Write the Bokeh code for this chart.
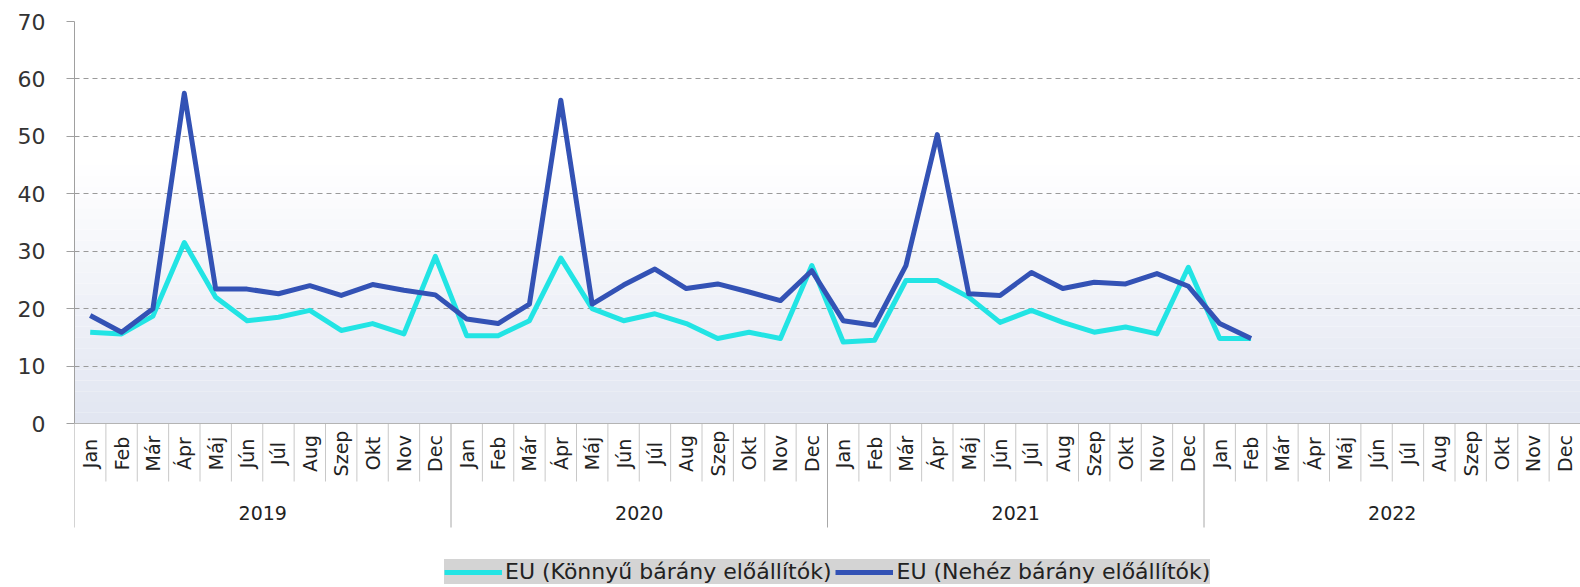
import math
from bokeh.plotting import figure
from bokeh.models import (Range1d, FixedTicker, Legend, LegendItem, BoxAnnotation, Span)
from bokeh.core.properties import value
from bokeh.embed import file_html
from bokeh.resources import INLINE

FONT = "DejaVu Sans"

years = ["2019", "2020", "2021", "2022"]
months = ["Jan", "Feb", "Már", "Ápr", "Máj", "Jún", "Júl", "Aug", "Szep", "Okt", "Nov", "Dec"]

light_name = "EU (Könnyű bárány előállítók)"
heavy_name = "EU (Nehéz bárány előállítók)"

light = [15.9, 15.6, 18.7, 31.5, 22.0, 17.9, 18.5, 19.7, 16.2, 17.4, 15.6, 29.1,
         15.3, 15.3, 17.9, 28.8, 20.0, 17.9, 19.1, 17.4, 14.8, 15.9, 14.8, 27.5,
         14.2, 14.5, 24.9, 24.9, 22.0, 17.6, 19.7, 17.6, 15.9, 16.8, 15.6, 27.2,
         14.8, 14.8]
heavy = [18.8, 15.9, 20.0, 57.5, 23.4, 23.4, 22.6, 24.0, 22.3, 24.2, 23.2, 22.4,
         18.2, 17.4, 20.8, 56.3, 20.8, 24.1, 26.9, 23.5, 24.3, 22.9, 21.4, 26.6,
         17.9, 17.1, 27.5, 50.3, 22.6, 22.3, 26.3, 23.5, 24.6, 24.3, 26.1, 23.9,
         17.4, 14.8]

n_cat = len(years) * len(months)
xs_light = [i + 0.5 for i in range(len(light))]
xs_heavy = [i + 0.5 for i in range(len(heavy))]

# layout (pixels)
W, H = 1580, 587
TOP, LEFT = 21, 74
DATA_PX = 402            # pixel height of 0..70
YMAX = 70
frame_px = H - TOP
px = YMAX / DATA_PX      # data units per pixel
y_lo = -(frame_px - DATA_PX) * px

p = figure(width=W, height=H, x_range=Range1d(0, n_cat), y_range=Range1d(y_lo, YMAX),
           output_backend="svg", toolbar_location=None, x_axis_type=None,
           min_border_left=LEFT, min_border_right=0, min_border_top=TOP, min_border_bottom=0)
p.outline_line_color = None
p.background_fill_color = "white"
p.border_fill_color = "white"

# background gradient bands (style)
top_c = (255, 255, 255)
bot_c = (0xE1, 0xE5, 0xF1)
nb = 24
span = 45.0
for k in range(nb):
    y0 = span * k / nb
    y1 = span * (k + 1) / nb
    t = (k + 0.5) / nb
    c = tuple(int(round(bot_c[j] + (top_c[j] - bot_c[j]) * t)) for j in range(3))
    p.add_layout(BoxAnnotation(bottom=y0, top=y1, fill_color="#%02x%02x%02x" % c, fill_alpha=1,
                               line_color=None, level="image"))

# y axis
yticks = list(range(0, 71, 10))
yax = p.yaxis[0]
yax.ticker = FixedTicker(ticks=yticks)
yax.bounds = (0, YMAX)
yax.major_tick_out = 8
yax.major_tick_in = 0
yax.minor_tick_out = 0
yax.minor_tick_in = 0
yax.axis_line_color = "#a0a0a0"
yax.major_tick_line_color = "#a0a0a0"
yax.major_label_standoff = 21
yax.major_label_text_font = FONT
yax.major_label_text_font_size = "22px"
yax.major_label_text_color = "#333333"

p.ygrid.ticker = FixedTicker(ticks=yticks[1:])
p.ygrid.grid_line_color = "#9a9a9a"
p.ygrid.grid_line_dash = "5 4"
p.ygrid.grid_line_width = 1

p.add_layout(Span(location=0, dimension="width", line_color="#b4b4b4", line_width=1))

# category axis drawn below the zero line
bounds = list(range(0, n_cat + 1))
year_bounds = [b for b in bounds if b % 12 == 0]
month_bounds = [b for b in bounds if b % 12 != 0]
centers = [i + 0.5 for i in range(n_cat)]
month_sep_y = -58 * px
year_sep_y = -104 * px
month_lab_y = -30 * px
year_lab_y = -89 * px

p.segment(x0=month_bounds, y0=[0] * len(month_bounds), x1=month_bounds,
          y1=[month_sep_y] * len(month_bounds), line_color="#c8c8c8", line_width=1)
p.segment(x0=year_bounds, y0=[0] * len(year_bounds), x1=year_bounds,
          y1=[year_sep_y] * len(year_bounds), line_color="#a8a8a8", line_width=1)

p.text(x=centers, y=[month_lab_y] * n_cat, text=months * len(years), angle=math.pi / 2,
       text_align="center", text_baseline="middle", text_font=value(FONT),
       text_font_size="19px", text_color="#222222")

year_centers = [12 * k + 6 for k in range(len(years))]
p.text(x=year_centers, y=[year_lab_y] * len(years), text=years, text_align="center",
       text_baseline="middle", text_font=value(FONT), text_font_size="19px",
       text_color="#222222")

r1 = p.line(xs_light, light, line_color="#22e4e4", line_width=5, line_join="round")
r2 = p.line(xs_heavy, heavy, line_color="#3352b5", line_width=5, line_join="round")

legend = Legend(items=[LegendItem(label=light_name, renderers=[r1]),
                       LegendItem(label=heavy_name, renderers=[r2])],
                orientation="horizontal", location=(370, 3))
legend.background_fill_color = "#d4d4d4"
legend.background_fill_alpha = 1
legend.border_line_color = None
legend.padding = 6
legend.margin = 0
legend.spacing = 4
legend.label_standoff = 3
legend.glyph_width = 58
legend.glyph_height = 20
legend.label_text_font = FONT
legend.label_text_font_size = "22px"
legend.label_text_color = "#222222"
legend.label_text_baseline = "middle"
p.add_layout(legend)

open("out.html", "w").write(file_html(p, INLINE))
